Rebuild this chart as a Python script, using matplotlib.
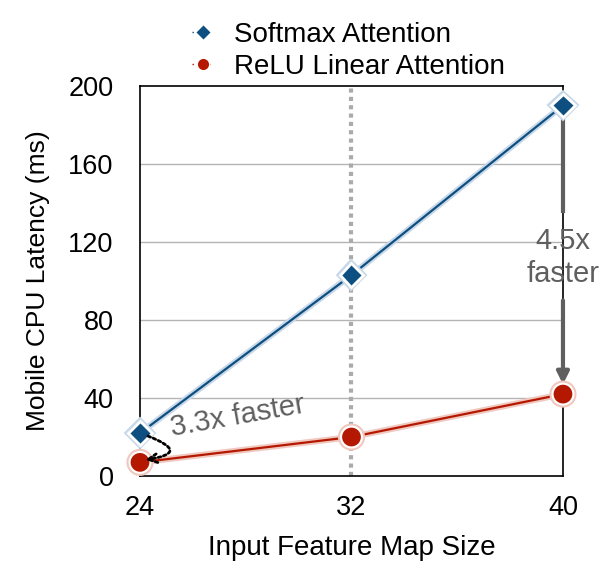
import matplotlib
matplotlib.use('Agg')
import matplotlib.pyplot as plt
import matplotlib.patheffects as pe
from matplotlib.lines import Line2D

sizes = [24, 32, 40]
softmax = [22, 103, 190]
relu = [7, 20, 42]
yticks = [0, 40, 80, 120, 160, 200]

BLUE = '#0d4f80'
RED = '#b51800'
GRAY = '#5f5f5f'

plt.rcParams['font.family'] = ['Liberation Sans', 'DejaVu Sans']

fig = plt.figure(figsize=(6.06, 5.69), dpi=100)
ax = fig.add_axes([0.231, 0.1634, 0.698, 0.6856])

ax.set_xlim(24, 40)
ax.set_ylim(0, 200)
ax.set_xticks(sizes)
ax.set_yticks(yticks)
ax.tick_params(labelsize=19.5, length=0)
ax.tick_params(axis='y', pad=19)
ax.tick_params(axis='x', pad=14)
for s in ax.spines.values():
    s.set_linewidth(1.2)
for v in yticks[1:-1]:
    ax.axhline(v, color='#b4b4b4', lw=1, zorder=0)
ax.axvline(32, color='#aaaaaa', lw=3, ls=(0, (1, 1)), zorder=0)

glow_b = [pe.Stroke(linewidth=4.5, foreground='#c8d8e8'), pe.Normal()]
glow_r = [pe.Stroke(linewidth=4.5, foreground='#f0c8c0'), pe.Normal()]
ax.plot(sizes, softmax, color=BLUE, lw=1.6, marker='D', ms=12, mfc=BLUE,
        mec='white', mew=2, path_effects=glow_b, clip_on=False, zorder=4)
ax.plot(sizes, relu, color=RED, lw=1.6, marker='o', ms=15, mfc=RED,
        mec='white', mew=1.5, path_effects=glow_r, clip_on=False, zorder=4)

# 3.3x annotation
ax.annotate('', xy=(24.2, 8.3), xytext=(24.3, 20.5),
            arrowprops=dict(arrowstyle='->', color='black', lw=2, ls=(0, (1, 1)),
                            connectionstyle='arc3,rad=-1.9', shrinkA=0, shrinkB=0,
                            mutation_scale=16),
            zorder=5)
ax.text(27.7, 30.5, '3.3x faster', fontsize=21, color=GRAY, rotation=10,
        ha='center', va='center')

# 4.5x annotation
ax.plot([40, 40], [183.5, 136], color=GRAY, lw=3, clip_on=False, zorder=3)
ax.annotate('', xy=(40, 47), xytext=(40, 90),
            arrowprops=dict(arrowstyle='-|>', color=GRAY, lw=3,
                            mutation_scale=18, shrinkA=0, shrinkB=0),
            zorder=3, annotation_clip=False)
ax.text(40, 112, '4.5x\nfaster', fontsize=21, color=GRAY, ha='center',
        va='center', linespacing=1.25)

ax.set_xlabel('Input Feature Map Size', fontsize=20, labelpad=10)
ax.set_ylabel('Mobile CPU Latency (ms)', fontsize=19, labelpad=13)

handles = [
    Line2D([], [], color=BLUE, ls=(0, (1, 3)), lw=1, marker='D', ms=8,
           mfc=BLUE, mec='white', mew=1),
    Line2D([], [], color=RED, ls=(0, (1, 3)), lw=1, marker='o', ms=9,
           mfc=RED, mec='white', mew=1),
]
fig.legend(handles, ['Softmax Attention', 'ReLU Linear Attention'],
           loc='upper center', bbox_to_anchor=(0.575, 1.0), frameon=False,
           fontsize=20, handlelength=0.8, labelspacing=0.2,
           borderaxespad=0.4, handletextpad=0.7)

fig.savefig('out.png', dpi=100)
